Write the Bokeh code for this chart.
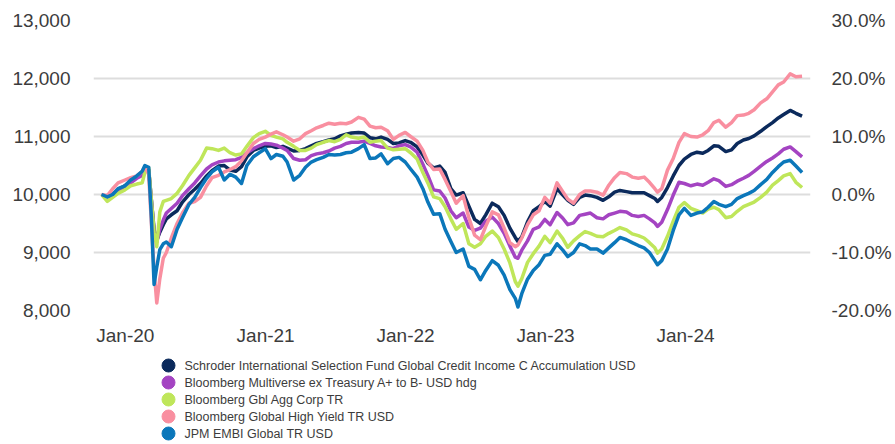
import pandas as pd
from bokeh.plotting import figure
from bokeh.layouts import column
from bokeh.models import (Range1d, LinearAxis, FixedTicker, NumeralTickFormatter,
                          DatetimeTickFormatter, ColumnDataSource)
from bokeh.core.properties import value
from bokeh.embed import file_html
from bokeh.resources import INLINE

# ---------------- data ----------------
dates = [
    "2019-10-31", "2019-11-15", "2019-11-29", "2019-12-13", "2019-12-31",
    "2020-01-15", "2020-01-31", "2020-02-14", "2020-02-21", "2020-03-02",
    "2020-03-09", "2020-03-16", "2020-03-23", "2020-03-31", "2020-04-09",
    "2020-04-17", "2020-04-30", "2020-05-15", "2020-05-29", "2020-06-15",
    "2020-06-30", "2020-07-15", "2020-07-31", "2020-08-14", "2020-08-31",
    "2020-09-15", "2020-09-30", "2020-10-15", "2020-10-30", "2020-11-13",
    "2020-11-30", "2020-12-15", "2020-12-31", "2021-01-15", "2021-01-29",
    "2021-02-15", "2021-02-26", "2021-03-15", "2021-03-31", "2021-04-15",
    "2021-04-30", "2021-05-14", "2021-05-31", "2021-06-15", "2021-06-30",
    "2021-07-15", "2021-07-30", "2021-08-13", "2021-08-31", "2021-09-15",
    "2021-09-30", "2021-10-15", "2021-10-29", "2021-11-15", "2021-11-30",
    "2021-12-15", "2021-12-31", "2022-01-14", "2022-01-31", "2022-02-15",
    "2022-02-28", "2022-03-15", "2022-03-31", "2022-04-14", "2022-04-29",
    "2022-05-13", "2022-05-31", "2022-06-15", "2022-06-30", "2022-07-15",
    "2022-07-29", "2022-08-15", "2022-08-31", "2022-09-15", "2022-09-30",
    "2022-10-14", "2022-10-21", "2022-10-31", "2022-11-15", "2022-11-30",
    "2022-12-15", "2022-12-30", "2023-01-13", "2023-01-31", "2023-02-15",
    "2023-02-28", "2023-03-15", "2023-03-31", "2023-04-14", "2023-04-28",
    "2023-05-15", "2023-05-31", "2023-06-15", "2023-06-30", "2023-07-14",
    "2023-07-31", "2023-08-15", "2023-08-31", "2023-09-15", "2023-09-29",
    "2023-10-13", "2023-10-20", "2023-10-31", "2023-11-15", "2023-11-30",
    "2023-12-15", "2023-12-29", "2024-01-15", "2024-01-31", "2024-02-15",
    "2024-02-29", "2024-03-15", "2024-03-28", "2024-04-15", "2024-04-30",
    "2024-05-15", "2024-05-31", "2024-06-14", "2024-06-28", "2024-07-15",
    "2024-07-31", "2024-08-15", "2024-08-30", "2024-09-13", "2024-09-30",
    "2024-10-15", "2024-10-31",
]

schroder = [
    10000, 9960, 10000, 10080, 10150, 10230, 10310, 10380, 10450, 10420,
    9900, 9400, 9210, 9350, 9480, 9580, 9650, 9720, 9870, 10000,
    10090, 10190, 10320, 10410, 10490, 10500, 10420, 10400, 10480, 10650,
    10760, 10800, 10830, 10840, 10810, 10830, 10800, 10750, 10760, 10790,
    10840, 10880, 10910, 10940, 10960, 11010, 11040, 11060, 11070, 11060,
    10980, 10960, 10990, 10950, 10880, 10890, 10930, 10900, 10820, 10680,
    10540, 10460, 10490, 10380, 10100, 9990, 10030, 9800, 9570, 9500,
    9650, 9850, 9790, 9640, 9420, 9260, 9190, 9270, 9530, 9720,
    9790, 9880, 9800, 10100, 9990, 9900, 9830, 9950, 9990, 9980,
    9950, 9900, 9960, 10040, 10070, 10050, 10030, 10030, 10030, 9980,
    9930, 9880, 9950, 10120, 10320, 10500, 10610, 10690, 10730, 10710,
    10760, 10840, 10830, 10740, 10770, 10880, 10940, 10965, 11010, 11090,
    11170, 11240, 11320, 11380, 11450, 11400, 11350,
]

multiverse = [
    10000, 9960, 10010, 10070, 10130, 10200, 10280, 10330, 10440, 10420,
    9900, 9350, 9180, 9400, 9560, 9680, 9760, 9850, 9980, 10100,
    10200, 10320, 10440, 10510, 10560, 10580, 10590, 10600, 10640, 10720,
    10790, 10840, 10880, 10870, 10850, 10800, 10760, 10620, 10590, 10600,
    10670, 10700, 10720, 10750, 10800, 10830, 10880, 10900, 10900, 10920,
    10880, 10840, 10820, 10810, 10790, 10840, 10860, 10820, 10730, 10520,
    10330, 10080, 10060, 9940, 9720, 9600, 9680, 9440, 9380, 9420,
    9540, 9610, 9500, 9330, 9110, 8920, 8900, 9040, 9200, 9400,
    9440, 9570, 9480, 9690, 9590, 9480, 9510, 9640, 9660, 9680,
    9600, 9580, 9650, 9680, 9710, 9700, 9640, 9620, 9640, 9580,
    9510, 9450, 9520, 9740, 9990, 10210, 10190, 10150, 10180, 10160,
    10210, 10270, 10240, 10140, 10170, 10230, 10280, 10330, 10400, 10490,
    10570, 10630, 10700, 10780, 10820, 10740, 10650,
]

gbl_agg_corp = [
    10000, 9880, 9950, 10020, 10080, 10150, 10180, 10200, 10380, 10460,
    9900, 9350, 9100, 9700, 9880, 9900, 9930, 10020, 10150, 10330,
    10460, 10590, 10800, 10790, 10760, 10800, 10720, 10680, 10700, 10830,
    10980, 11050, 11090, 11020, 10990, 10960, 10900, 10830, 10760, 10760,
    10800, 10860, 10900, 10930, 10910, 10950, 11030, 10990, 10970, 10990,
    10900, 10920, 10930, 10800, 10770, 10780, 10790, 10720, 10610, 10380,
    10200, 9960, 9930, 9790, 9580, 9400, 9500, 9150, 9090, 9150,
    9280, 9370, 9260, 9060, 8820, 8500, 8420, 8550, 8830, 8980,
    9110, 9280, 9170, 9370, 9240, 9090, 9200, 9290, 9360, 9330,
    9280, 9270, 9330, 9380, 9430, 9390, 9320, 9290, 9250, 9170,
    9080, 8990, 9060, 9280, 9540, 9780, 9860, 9760, 9720, 9680,
    9750, 9780, 9740, 9600, 9620, 9710, 9790, 9830, 9870, 9950,
    10040, 10160, 10240, 10320, 10360, 10210, 10120,
]

global_high_yield = [
    10000, 9980, 10100, 10200, 10250, 10290, 10320, 10400, 10480, 10350,
    9500, 8700, 8130, 8550, 8900, 9000, 9250, 9500, 9680, 9850,
    9880, 9950, 10150, 10290, 10330, 10390, 10430, 10480, 10580, 10720,
    10880, 10950, 10990, 11040, 11080, 11030, 10990, 10920, 10960, 11050,
    11100, 11150, 11190, 11230, 11210, 11230, 11220, 11250, 11330, 11300,
    11180, 11150, 11160, 11100, 10950, 11020, 11070, 11000, 10920, 10760,
    10560, 10430, 10440, 10260, 10050, 9850, 9980, 9600, 9300, 9220,
    9450, 9700, 9650, 9420, 9170, 9100, 9130, 9250, 9480, 9650,
    9720, 9950, 9850, 10200, 10050, 9920, 9850, 10000, 10060, 10060,
    10040, 9990, 10160, 10290, 10380, 10360, 10300, 10280, 10300, 10210,
    10100, 10040, 10100, 10420, 10620, 10900, 11050, 11000, 10990, 11030,
    11100, 11240, 11280, 11160, 11240, 11360, 11370, 11400, 11460, 11580,
    11650, 11770, 11890, 11940, 12080, 12030, 12040,
]

jpm_embi = [
    10000, 9960, 10000, 10100, 10150, 10250, 10320, 10400, 10500, 10470,
    9600, 8450, 8750, 9050, 9150, 9180, 9100, 9400, 9600, 9830,
    9950, 10120, 10280, 10390, 10470, 10250, 10350, 10300, 10190, 10500,
    10650, 10720, 10790, 10620, 10690, 10660, 10560, 10250, 10330, 10470,
    10560, 10600, 10640, 10690, 10680, 10690, 10720, 10730, 10790, 10860,
    10620, 10630, 10700, 10530, 10620, 10640, 10560, 10440, 10300, 10100,
    9870, 9660, 9670, 9400, 9190, 9000, 9060, 8760, 8710, 8530,
    8690, 8860, 8780, 8610, 8360, 8210, 8060, 8290, 8540, 8690,
    8790, 8950, 8970, 9150, 9040, 8930, 9000, 9150, 9120, 9060,
    9060, 8990, 9080, 9170, 9260, 9220, 9170, 9120, 9080, 9000,
    8860, 8790, 8860, 9060, 9380, 9650, 9760, 9640, 9680, 9700,
    9780, 9880, 9830, 9790, 9830, 9930, 9980, 10020, 10070, 10170,
    10260, 10380, 10480, 10560, 10590, 10490, 10380,
]

series_labels = [
    "Schroder International Selection Fund Global Credit Income C Accumulation USD",
    "Bloomberg Multiverse ex Treasury A+ to B- USD hdg",
    "Bloomberg Gbl Agg Corp TR",
    "Bloomberg Global High Yield TR USD",
    "JPM EMBI Global TR USD",
]
series_values = [schroder, multiverse, gbl_agg_corp, global_high_yield, jpm_embi]
series_colors = ["#0b2a5c", "#a444c2", "#bfe65a", "#f98fa0", "#0b77ba"]

left_ticks = [8000, 9000, 10000, 11000, 12000, 13000]
right_ticks = [-0.2, -0.1, 0.0, 0.1, 0.2, 0.3]
x_tick_dates = ["2020-01-01", "2021-01-01", "2022-01-01", "2023-01-01", "2024-01-01"]

# ---------------- main chart ----------------
FONT = "Liberation Sans"
TXT = "#3c3c3c"
LEFT_B, FRAME_W, RIGHT_B = 93, 717, 83

x = pd.to_datetime(dates)
x_ticks_ms = [int(v) // 10**6 for v in pd.to_datetime(x_tick_dates).astype("int64")]

p = figure(frame_width=FRAME_W, frame_height=290, x_axis_type="datetime",
           x_range=Range1d(pd.Timestamp("2019-10-10"), pd.Timestamp("2024-11-22")),
           y_range=Range1d(left_ticks[0], left_ticks[-1]),
           output_backend="svg", toolbar_location=None,
           min_border_left=LEFT_B, min_border_right=RIGHT_B,
           min_border_top=20, min_border_bottom=40)
p.outline_line_color = None

p.extra_y_ranges = {"pct": Range1d(right_ticks[0], right_ticks[-1])}
right_axis = LinearAxis(y_range_name="pct", ticker=FixedTicker(ticks=right_ticks),
                        formatter=NumeralTickFormatter(format="0.0%"))
p.add_layout(right_axis, "right")

p.yaxis[0].ticker = FixedTicker(ticks=left_ticks)
p.yaxis[0].formatter = NumeralTickFormatter(format="0,0")
p.yaxis[0].major_label_standoff = 23
right_axis.major_label_standoff = 21

p.xaxis.ticker = FixedTicker(ticks=x_ticks_ms)
p.xaxis.formatter = DatetimeTickFormatter(years="%b-%y", months="%b-%y", days="%b-%y",
                                          hours="%b-%y")
p.xaxis.major_label_standoff = 14

for ax in [p.xaxis[0], p.yaxis[0], right_axis]:
    ax.axis_line_color = None
    ax.major_tick_line_color = None
    ax.minor_tick_line_color = None
    ax.major_tick_out = 0
    ax.major_tick_in = 0
    ax.major_label_text_font = FONT
    ax.major_label_text_font_size = "19px"
    ax.major_label_text_color = TXT

p.xgrid.visible = False
p.ygrid.ticker = FixedTicker(ticks=left_ticks)
p.ygrid.grid_line_color = "#dddddd"
p.ygrid.grid_line_width = 2

for vals, color in zip(series_values, series_colors):
    src = ColumnDataSource(data=dict(x=x, y=vals))
    p.line("x", "y", source=src, line_color=color, line_width=3.5, line_join="round")

# ---------------- legend (separate strip below the chart) ----------------
# the strip's frame is aligned with the chart's frame; x values are page pixels
LEG_H = 92
FIRST_ROW = 15   # px from top of strip to first row centre
ROW_PITCH = 17   # px between rows
q = figure(frame_width=FRAME_W, frame_height=LEG_H,
           x_range=Range1d(LEFT_B, LEFT_B + FRAME_W),
           y_range=Range1d((LEG_H - FIRST_ROW) / ROW_PITCH, -FIRST_ROW / ROW_PITCH),
           x_axis_location=None, y_axis_location=None,
           output_backend="svg", toolbar_location=None,
           min_border_left=LEFT_B, min_border_right=RIGHT_B,
           min_border_top=0, min_border_bottom=0)
q.outline_line_color = None
q.grid.visible = False

leg_src = ColumnDataSource(data=dict(row=list(range(len(series_labels))),
                                     label=series_labels, color=series_colors))
q.scatter(x=168, y="row", source=leg_src, size=13, marker="circle",
          fill_color="color", line_color="color")
q.text(x=184, y="row", text="label", source=leg_src, text_baseline="middle",
       text_align="left", text_font=value(FONT),
       text_font_size="12.5px", text_color=TXT)

layout = column(p, q, spacing=0)
open("out.html", "w").write(file_html(layout, INLINE))
